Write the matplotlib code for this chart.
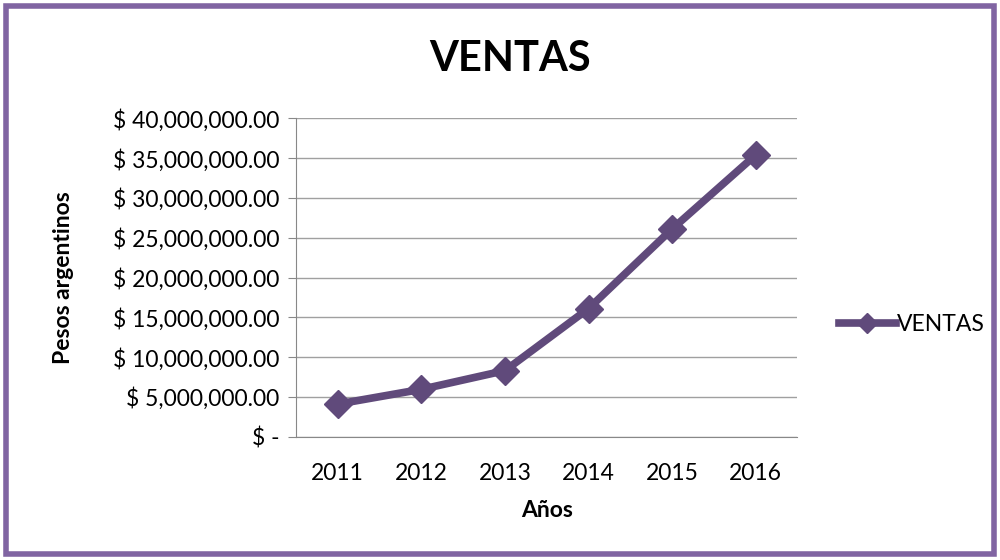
import matplotlib.pyplot as plt
from matplotlib.patches import Rectangle
from matplotlib.ticker import FuncFormatter

# datos
anios = ['2011', '2012', '2013', '2014', '2015', '2016']
ventas = [4100000, 5950000, 8300000, 16100000, 26100000, 35400000]
y_ticks = [0, 5e6, 10e6, 15e6, 20e6, 25e6, 30e6, 35e6, 40e6]

plt.rcParams['font.family'] = ['Lato', 'DejaVu Sans']

def pesos(v, pos):
    if v == 0:
        return '$ -'
    return '$ {:,.2f}'.format(v)

fig = plt.figure(figsize=(10, 5.6), dpi=100)
ax = fig.add_axes([0.296, 0.2202, 0.5015, 0.5685])

x = range(len(anios))
ax.plot(x, ventas, color='#604A7B', lw=5.5, marker='D', ms=14,
        label='VENTAS', solid_joinstyle='round')

ax.set_xlim(-0.5, len(anios) - 0.5)
ax.set_ylim(0, 40e6)
ax.set_yticks(y_ticks)
ax.yaxis.set_major_formatter(FuncFormatter(pesos))
ax.set_xticks(list(x))
ax.set_xticklabels(anios)
ax.tick_params(axis='y', labelsize=16.5, length=6, color='#888888', pad=6)
ax.tick_params(axis='x', labelsize=16.5, length=0, pad=19)
ax.grid(axis='y', color='#A0A0A0', lw=1)
ax.set_axisbelow(True)
for s in ['top', 'right']:
    ax.spines[s].set_visible(False)
ax.spines['left'].set_color('#888888')
ax.spines['bottom'].set_color('#888888')

ax.set_ylabel('Pesos argentinos', fontsize=16.5, fontweight='bold')
ax.yaxis.set_label_coords(-0.443, 0.5)
ax.set_xlabel('Años', fontsize=16.5, fontweight='bold')
ax.xaxis.set_label_coords(0.5, -0.2)
fig.text(0.51, 0.895, 'VENTAS', ha='center', va='center', fontsize=30, fontweight='bold')

leg = fig.legend(loc='center left', bbox_to_anchor=(0.818, 0.42), frameon=False,
                 fontsize=16.5, handlelength=2.5, handletextpad=0.05, markerscale=0.75)

# borde morado
fig.patches.append(Rectangle((0.006, 0.01), 0.988, 0.98, transform=fig.transFigure,
                             fill=False, edgecolor='#8064A2', lw=4))

fig.savefig('out.png', dpi=100)
